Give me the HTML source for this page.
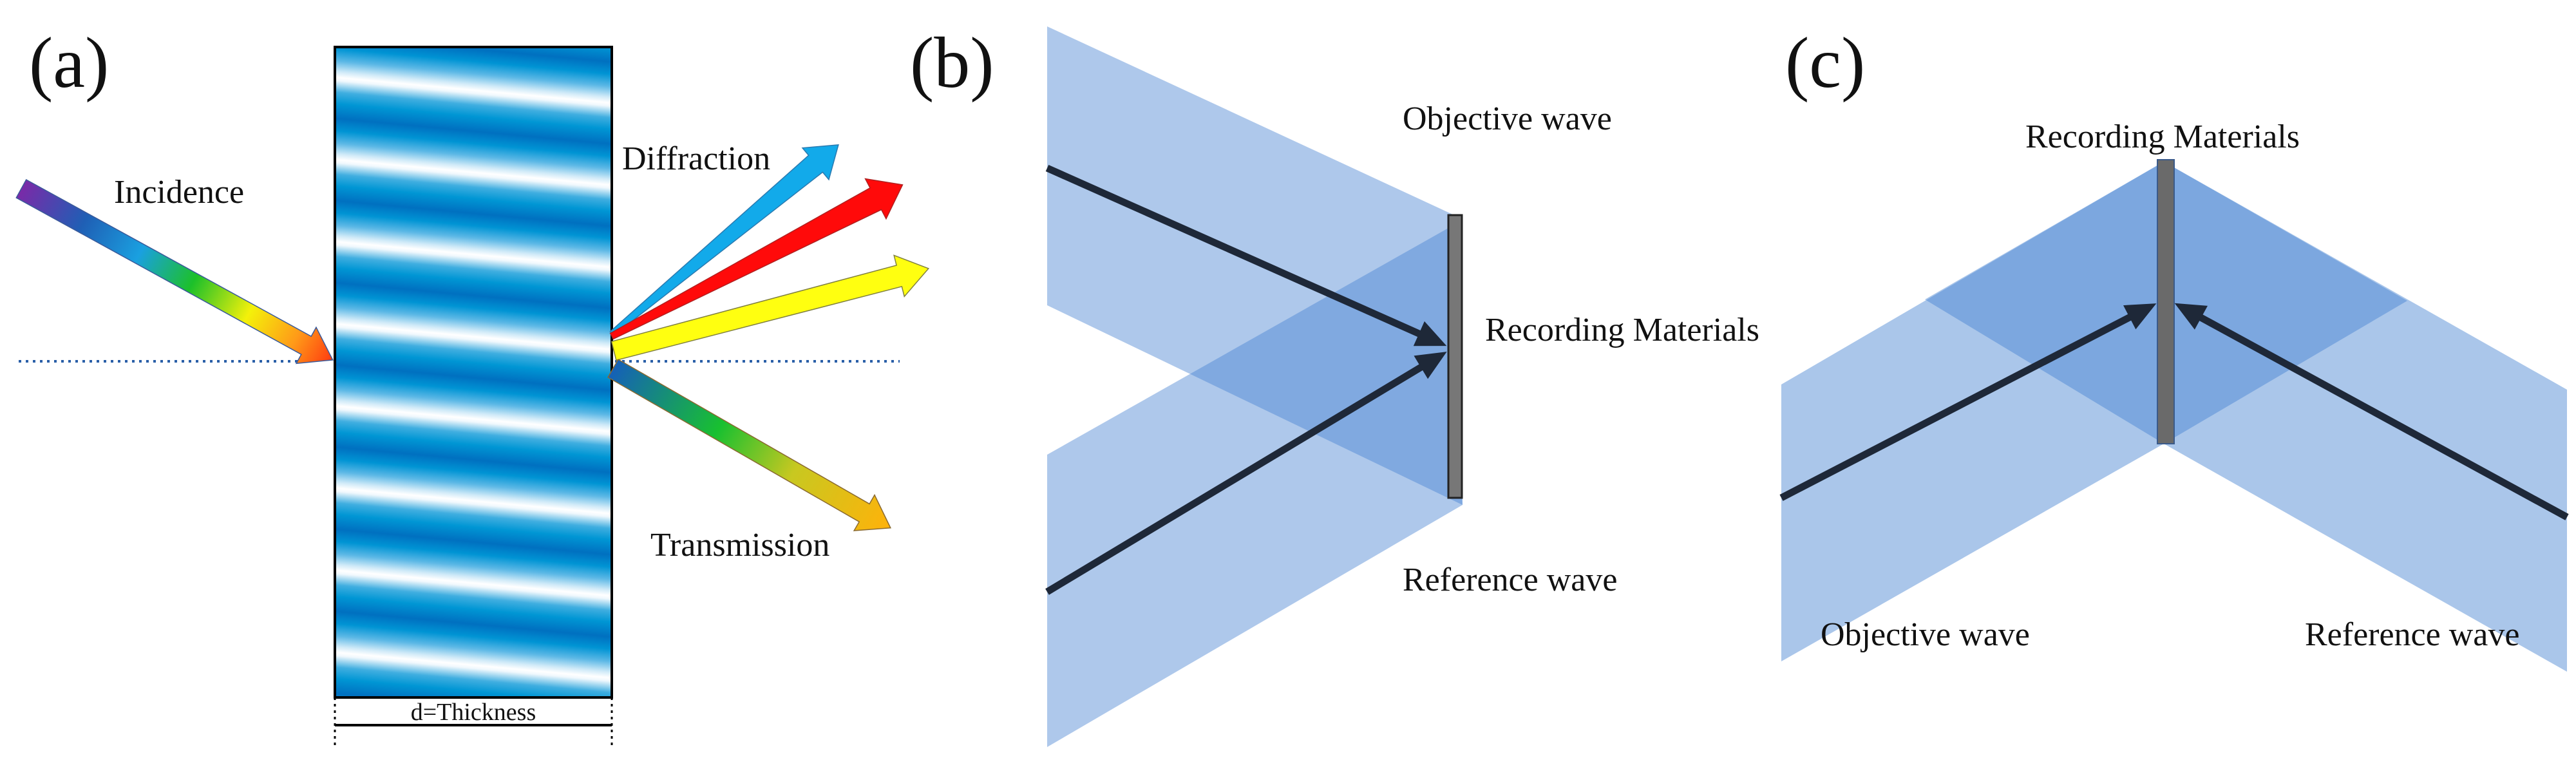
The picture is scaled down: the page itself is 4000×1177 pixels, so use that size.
<!DOCTYPE html>
<html><head><meta charset="utf-8"><style>
html,body{margin:0;padding:0;background:#fff}
body{width:4000px;height:1177px;position:relative;overflow:hidden;font-family:"Liberation Serif",serif}
svg{position:absolute;left:0;top:0}
text{font-family:"Liberation Serif",serif;fill:#111}
</style></head><body>
<svg width="4000" height="1177" viewBox="0 0 4000 1177">
<defs>
<linearGradient id="gInc" x1="0" y1="0" x2="552" y2="0" gradientUnits="userSpaceOnUse">
<stop offset="0" stop-color="#7a2aa8"/><stop offset="0.2" stop-color="#1f5fb5"/><stop offset="0.38" stop-color="#1aa0e0"/><stop offset="0.55" stop-color="#1cc02a"/><stop offset="0.73" stop-color="#f4f10a"/><stop offset="0.88" stop-color="#ff9a18"/><stop offset="1" stop-color="#ff3a10"/></linearGradient>
<linearGradient id="gTr" x1="0" y1="0" x2="497" y2="0" gradientUnits="userSpaceOnUse">
<stop offset="0" stop-color="#1560b8"/><stop offset="0.38" stop-color="#18c030"/><stop offset="0.65" stop-color="#c8c820"/><stop offset="1" stop-color="#ffb20a"/></linearGradient>
<linearGradient id="gStripe" x1="0" y1="0" x2="0" y2="1">
<stop offset="0" stop-color="#ffffff"/><stop offset="0.04" stop-color="#f0f8fd"/><stop offset="0.18" stop-color="#40aee0"/><stop offset="0.32" stop-color="#0096d4"/><stop offset="0.5" stop-color="#0070c0"/><stop offset="0.65" stop-color="#0094d4"/><stop offset="0.8" stop-color="#5cb8e6"/><stop offset="0.93" stop-color="#d0eaf8"/><stop offset="1" stop-color="#ffffff"/></linearGradient>
<pattern id="pStripe" patternUnits="userSpaceOnUse" x="0" y="0" width="2000" height="127" patternTransform="rotate(5.3 520 120) translate(0,120)">
<rect x="0" y="0" width="2000" height="127" fill="url(#gStripe)"/></pattern>
</defs>
<rect x="520" y="73" width="430" height="1010" fill="url(#pStripe)"/>
<rect x="520" y="73" width="430" height="1010" fill="none" stroke="#000" stroke-width="4"/>
<line x1="520" y1="1126" x2="950" y2="1126" stroke="#000" stroke-width="4"/>
<line x1="520" y1="1083" x2="520" y2="1160" stroke="#000" stroke-width="3" stroke-dasharray="4,6"/>
<line x1="950" y1="1083" x2="950" y2="1160" stroke="#000" stroke-width="3" stroke-dasharray="4,6"/>
<text x="735" y="1118" font-size="38" text-anchor="middle">d=Thickness</text>
<line x1="29" y1="561" x2="478" y2="561" stroke="#2a5fa8" stroke-width="4" stroke-dasharray="4,7"/>
<line x1="955" y1="561" x2="1397" y2="561" stroke="#2a5fa8" stroke-width="4" stroke-dasharray="4,7"/>
<g transform="translate(33,293) rotate(28.8)"><polygon points="0,-16 505,-16 505,-32 552,0 505,32 505,16 0,16" fill="url(#gInc)" stroke="#3a5a9a" stroke-width="1.5"/></g>
<g transform="translate(950,518) rotate(-39.8)"><polygon points="0,-4 412,-17 412,-32 458,0 412,32 412,17 0,4" fill="#12aaea" stroke="#2a7ab0" stroke-width="1.5"/></g>
<g transform="translate(950,522) rotate(-27.5)"><polygon points="0,-5 462,-19 462,-35 509,0 462,35 462,19 0,5" fill="#ff0a0a" stroke="#b02020" stroke-width="1.5"/></g>
<g transform="translate(952,540) rotate(-14.1)"><polygon points="0,-10 458,-17 458,-33 505,0 458,33 458,17 0,20" fill="#ffff10" stroke="#808040" stroke-width="1.5"/></g>
<g transform="translate(952,572) rotate(29.9)"><polygon points="0,-16 450,-16 450,-32 497,0 450,32 450,16 0,16" fill="url(#gTr)" stroke="#8a6a30" stroke-width="1.5"/></g>
<text x="177" y="315" font-size="52">Incidence</text>
<text x="966" y="263" font-size="52">Diffraction</text>
<text x="1010" y="863" font-size="52">Transmission</text>
<text x="45" y="135" font-size="112">(a)</text>
<text x="1413" y="135" font-size="112">(b)</text>
<text x="2772" y="135" font-size="112">(c)</text>
<!-- panel b -->
<polygon points="1626,41 2258,334 2271,784 1626,474" fill="rgb(70,130,210)" fill-opacity="0.44"/>
<polygon points="1626,706 2258,349 2271,784 1626,1160" fill="rgb(70,130,210)" fill-opacity="0.44"/>
<rect x="2249" y="334" width="21" height="439" fill="#777" stroke="#222" stroke-width="3"/>
<g transform="translate(1626,261) rotate(24)"><line x1="0" y1="0" x2="650" y2="0" stroke="#1e2838" stroke-width="11"/><polygon points="679,0 632,-21 632,21" fill="#1e2838"/></g>
<g transform="translate(1626,919) rotate(-31)"><line x1="0" y1="0" x2="695" y2="0" stroke="#1e2838" stroke-width="11"/><polygon points="724,0 677,-21 677,21" fill="#1e2838"/></g>
<text x="2178" y="201" font-size="52">Objective wave</text>
<text x="2306" y="529" font-size="52">Recording Materials</text>
<text x="2178" y="917" font-size="52">Reference wave</text>
<!-- panel c -->
<polygon points="2766,597 3360,251 3360,689 2766,1027" fill="rgb(70,130,210)" fill-opacity="0.46"/>
<polygon points="3360,251 3986,605 3986,1043 3360,689" fill="rgb(70,130,210)" fill-opacity="0.46"/>
<polygon points="3360,251 3738,467 3360,689 2989,465" fill="rgb(70,130,210)" fill-opacity="0.46"/>
<rect x="3350" y="248" width="26" height="441" fill="#6a6a6a" stroke="#3a5a8a" stroke-width="2"/>
<g transform="translate(2766,773) rotate(-27.4)"><line x1="0" y1="0" x2="627" y2="0" stroke="#1e2838" stroke-width="11"/><polygon points="656,0 609,-21 609,21" fill="#1e2838"/></g>
<g transform="translate(3986,803) rotate(208.6)"><line x1="0" y1="0" x2="665" y2="0" stroke="#1e2838" stroke-width="11"/><polygon points="694,0 647,-21 647,21" fill="#1e2838"/></g>
<text x="3145" y="229" font-size="52">Recording Materials</text>
<text x="2827" y="1002" font-size="52">Objective wave</text>
<text x="3579" y="1002" font-size="52">Reference wave</text>
</svg>
</body></html>
